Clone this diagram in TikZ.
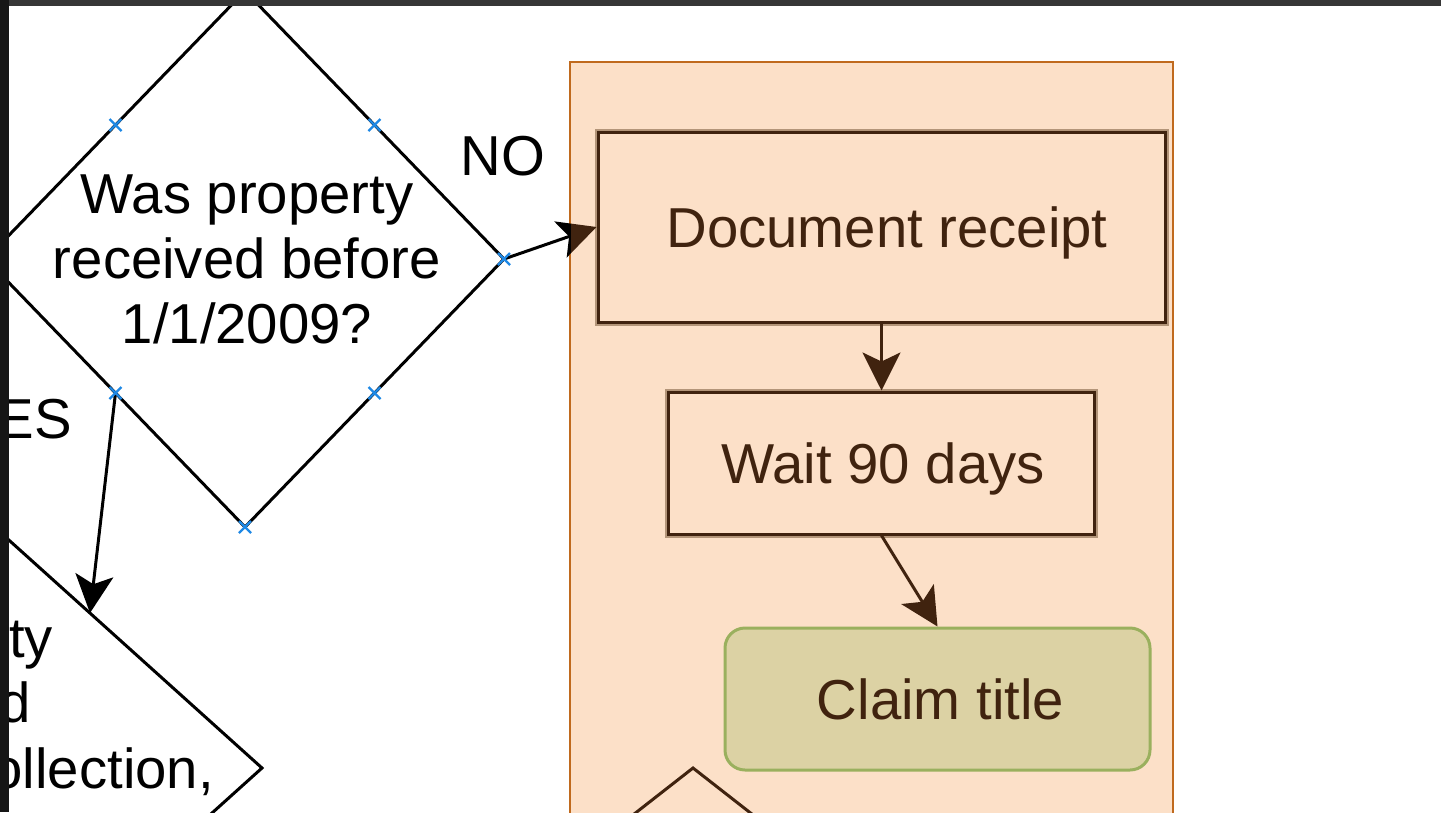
\documentclass[tikz,border=0pt]{standalone}
\usepackage{fontspec}
\setmainfont{Liberation Sans}
\usetikzlibrary{arrows.meta,calc}
\definecolor{peach}{HTML}{FCE0C8}
\definecolor{orng}{HTML}{C06A1E}
\definecolor{brn}{HTML}{40230F}
\definecolor{brnhalo}{HTML}{B39579}
\definecolor{olive}{HTML}{DCD2A4}
\definecolor{grn}{HTML}{9AB05E}
\definecolor{markblue}{HTML}{1E88E5}
\definecolor{frameA}{HTML}{161616}
\definecolor{frameB}{HTML}{363636}
\begin{document}
\begin{tikzpicture}[x=1pt,y=-1pt,
  txt/.style={font=\fontsize{56.3}{65}\selectfont, inner sep=0pt, anchor=base},
  flow/.style={line width=3pt, -{Stealth[length=38pt,width=38pt,inset=9pt]}},
  dline/.style={line width=3pt, black, line join=miter},
  xmark/.style={markblue, line width=2.2pt},
  boxed/.style={draw=brn, line width=3pt, fill=peach, inner sep=0pt, text=brn,
    font=\fontsize{56.3}{65}\selectfont, text height=45pt, text depth=5pt,
    preaction={draw=brnhalo, line width=7pt}},
  endbox/.style={draw=grn, line width=3pt, fill=olive, rounded corners=20pt, inner sep=0pt,
    text=brn, font=\fontsize{56.3}{65}\selectfont, text height=45pt, text depth=5pt},
  groupbox/.style={draw=orng, line width=2.5pt, fill=peach, inner sep=0pt}]
\useasboundingbox (0,0) rectangle (1441,812);
\fill[white] (0,0) rectangle (1441,812);

% diamond 1
\coordinate (d1t) at (245,-9);
\coordinate (d1r) at (504,259);
\coordinate (d1b) at (245,527);
\coordinate (d1l) at (-14,259);
\draw[dline] (d1t) -- (d1r) -- (d1b) -- (d1l) -- cycle;
\coordinate (m1) at ($(d1l)!0.5!(d1t)$);
\coordinate (m2) at ($(d1t)!0.5!(d1r)$);
\coordinate (m3) at ($(d1l)!0.5!(d1b)$);
\coordinate (m4) at ($(d1b)!0.5!(d1r)$);

% diamond 2
\coordinate (d2t) at (-100,442);
\coordinate (d2r) at (262,768);
\coordinate (d2b) at (-100,1094);
\draw[dline] (d2t) -- (d2r) -- (d2b);

% YES connector
\coordinate (yesend) at (90,613);
\draw[flow, black] (m3) -- (yesend);

% container
\node[groupbox, minimum width=603pt, minimum height=840pt] (cont) at (871.5,482) {};

\node[boxed, minimum width=567pt, minimum height=190pt] (doc) at (881.5,227) {\hspace*{11pt}Document receipt};
% NO connector (black outside, brown inside container)
\begin{scope}
\clip (0,0) rectangle (571,812);
\draw[flow, black] (d1r) -- (doc.west);
\end{scope}
\begin{scope}
\clip (571,0) rectangle (1441,812);
\draw[flow, brn] (d1r) -- (doc.west);
\end{scope}

\node[boxed, minimum width=426pt, minimum height=142pt] (wait) at (881.5,463) {\hspace*{3pt}Wait 90 days};
\node[endbox, minimum width=425pt, minimum height=142pt] (claim) at (937.5,699) {\hspace*{6pt}Claim title};

\draw[flow, brn] (doc.south) -- (wait.north);
\draw[flow, brn] (wait.south) -- (claim.north);

% partial diamond at bottom
\coordinate (d3t) at (693,768);
\draw[brn, line width=3pt] (583,854) -- (d3t) -- (803,854);

% connection markers
\foreach \p in {m1,m2,m3,m4,d1r,d1b}{
  \draw[xmark] ($(\p)+(-6,-6)$) -- ($(\p)+(6,6)$);
  \draw[xmark] ($(\p)+(-6,6)$) -- ($(\p)+(6,-6)$);
}

% texts
\node[txt] (q1a) at (247,213) {Was property};
\node[txt] (q1b) at (247,278) {received before};
\node[txt] (q1c) at (247,343) {1/1/2009?};
\node[txt, anchor=base east] (q2a) at (53,657) {ty};
\node[txt, anchor=base east] (q2b) at (31,722) {d};
\node[txt, anchor=base east] (q2c) at (214,788) {ollection,};
\node[txt, anchor=base east] (yes) at (72,438) {YES};
\node[txt] (no) at (503,175) {NO};

% screen frame
\fill[frameB] (0,0) rectangle (1441,6);
\fill[frameA] (0,0) rectangle (9,812);
\end{tikzpicture}
\end{document}
